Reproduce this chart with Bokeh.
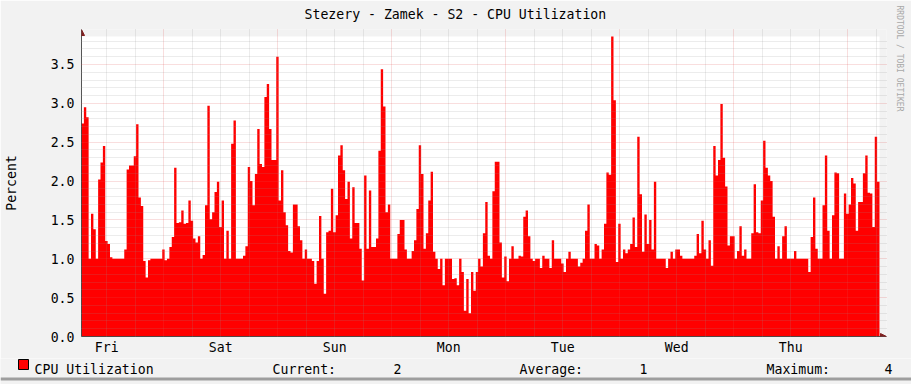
from bokeh.plotting import figure
from bokeh.layouts import column
from bokeh.models import (FixedTicker, Arrow, NormalHead, Title,
                          ColumnDataSource, PrintfTickFormatter)
from bokeh.core.properties import value
from bokeh.embed import file_html
from bokeh.resources import INLINE

# ---------------- data (30-minute averages, % CPU) ----------------
TITLE = "Stezery - Zamek - S2 - CPU Utilization"
Y_LABEL = "Percent"
SERIES_NAME = "CPU Utilization"
WATERMARK = "RRDTOOL / TOBI OETIKER"
DAY_NAMES = ["Fri", "Sat", "Sun", "Mon", "Tue", "Wed", "Thu"]
STAT_NAMES = ["Current:", "Average:", "Maximum:"]
START_HOUR = 6.7      # hours after Fri 00:00 at which the window starts
STEP_HOURS = 0.5

cpu_1 = [2.74, 2.95, 2.82, 1.0, 1.58, 1.38, 1.0, 2.02, 2.24, 2.45,
         1.23, 1.19, 1.02, 1.0, 1.0, 1.0, 1.0, 1.0, 1.12, 2.15,
         2.2, 2.2, 2.32, 2.73, 1.79, 1.68, 0.97, 0.76, 0.98, 1.0,
         1.0, 1.0, 1.0, 1.0, 1.12, 0.98, 1.0, 1.15, 1.28, 2.17,
         1.46, 1.47, 1.62, 1.45, 1.46, 1.75, 1.49, 1.26]
cpu_2 = [1.21, 1.29,
         1.0, 1.05, 1.69, 2.97, 1.51, 1.6, 1.86, 1.99, 1.41, 1.75,
         1.0, 1.36, 1.0, 2.48, 2.78, 1.0, 1.0, 1.0, 1.04, 1.16,
         2.18, 2.0, 1.69, 2.09, 2.67, 2.22, 2.18, 3.08, 3.25, 2.67,
         2.27, 2.27, 3.6, 1.75, 2.14, 1.6, 1.43, 1.1, 1.08, 1.7,
         1.7, 1.42, 1.24, 1.0, 1.12, 1.0]
cpu_3 = [1.0, 0.97, 0.68, 0.97,
         1.55, 1.0, 0.55, 1.34, 1.36, 1.9, 1.34, 1.56, 2.33, 2.46,
         2.14, 1.77, 1.99, 1.26, 1.92, 1.46, 1.46, 1.13, 0.72, 2.07,
         1.13, 1.88, 1.15, 1.15, 1.26, 2.39, 3.44, 2.96, 1.6, 1.7,
         1.0, 1.0, 1.0, 1.32, 1.5, 1.5, 1.12, 1.0, 1.0, 1.1,
         1.24, 1.64, 2.46, 2.09]
cpu_4 = [1.13, 1.33, 1.75, 2.12, 1.09, 1.0,
         0.87, 1.0, 0.66, 1.0, 1.0, 1.0, 0.74, 0.75, 0.66, 1.0,
         0.83, 0.33, 0.74, 0.3, 0.83, 0.59, 0.83, 1.0, 0.9, 1.33,
         1.73, 1.04, 1.0, 1.87, 2.25, 2.25, 1.21, 0.76, 1.03, 0.71,
         1.0, 1.16, 1.0, 1.0, 1.04, 1.03, 1.54, 1.62, 1.29, 1.0,
         0.97, 1.0]
cpu_5 = [1.0, 0.88, 1.04, 1.0, 1.0, 0.88, 1.24, 1.0,
         1.0, 1.0, 0.94, 0.83, 1.0, 1.09, 1.0, 1.0, 1.0, 0.9,
         0.95, 1.0, 1.36, 1.7, 1.0, 1.0, 1.19, 1.17, 1.0, 1.12,
         1.45, 2.11, 2.08, 3.86, 3.04, 0.96, 1.45, 1.0, 1.12, 1.07,
         1.12, 1.19, 1.53, 1.15, 2.57, 1.83, 1.09, 1.57, 1.19, 1.5]
cpu_6 = [1.12, 1.99, 1.0, 1.0, 1.0, 1.0, 0.88, 1.0, 1.09, 1.0,
         1.12, 1.12, 1.04, 1.0, 1.0, 1.0, 1.0, 1.0, 1.04, 1.32,
         1.07, 1.49, 1.12, 1.0, 1.24, 0.91, 2.45, 2.07, 2.27, 2.99,
         2.3, 1.93, 1.17, 1.29, 1.29, 1.0, 1.1, 1.42, 1.04, 1.12,
         1.0, 1.0, 1.33, 1.96, 1.34, 1.33, 1.75, 2.52]
cpu_7 = [2.17, 2.07,
         2.0, 1.54, 1.0, 1.16, 1.0, 1.29, 1.42, 1.0, 1.0, 1.0,
         1.1, 1.0, 1.0, 1.0, 1.0, 1.0, 0.83, 1.28, 1.79, 1.13,
         1.0, 1.0, 1.69, 2.33, 1.36, 1.0, 1.56, 2.11, 2.1, 1.0,
         1.0, 1.84, 1.58, 1.7, 2.04, 1.97, 1.36, 1.73, 1.73, 2.1,
         2.33, 1.85, 1.84, 1.41, 2.57, 1.99]

cpu = cpu_1 + cpu_2 + cpu_3 + cpu_4 + cpu_5 + cpu_6 + cpu_7
n = len(cpu)
t_end = START_HOUR + STEP_HOURS * n
times = [START_HOUR + STEP_HOURS * i for i in range(n)] + [t_end]
vals = cpu + [cpu[-1]]
ymax = max(cpu)

stat_values = [cpu[-1], sum(cpu) / n, max(cpu)]

# ---------------- layout (pixel geometry) ----------------
W, H = 911, 384
LEG_H = 26                          # legend strip at the bottom
H_MAIN = H - LEG_H
DL, DR, DT, DB = 81, 879, 36, 336   # data canvas edges
ARROW_EXT = 7                       # axes run this far past the canvas, to the arrows
px_h = (DR - DL) / (t_end - START_HOUR)
px_u = (DB - DT) / ymax
x_hi = t_end + ARROW_EXT / px_h
y_hi = ymax + ARROW_EXT / px_u

FONT = "DejaVu Sans Mono"
FS = "13.2px"
GREY_BG = "#F2F2F2"
SHADE_B = "#9E9E9E"

p = figure(width=W, height=H_MAIN, x_range=(START_HOUR, x_hi), y_range=(0, y_hi),
           output_backend="svg", toolbar_location=None,
           min_border_left=DL, min_border_right=W - (DR + ARROW_EXT),
           min_border_top=DT - ARROW_EXT, min_border_bottom=H_MAIN - DB,
           background_fill_color=GREY_BG, border_fill_color=GREY_BG,
           outline_line_color=None)

# white canvas spanning the data window
p.quad(left=[START_HOUR], right=[t_end], bottom=[0], top=[ymax],
       fill_color="#FFFFFF", line_color=None)

src = ColumnDataSource(dict(t=times, v=vals))
p.varea_step(x="t", y1=0, y2="v", step_mode="after", source=src,
             fill_color="#FF0000", fill_alpha=1.0)

# ---------------- grids ----------------
midnights = [24 * k for k in range(1, 8) if START_HOUR < 24 * k < t_end]
six_hours = [6 * k for k in range(1, 30) if START_HOUR < 6 * k < t_end and (6 * k) % 24 != 0]
y_major = [0.5 * k for k in range(0, int(ymax / 0.5) + 1)]
y_minor = [round(0.1 * k, 1) for k in range(1, int(ymax * 10 + 1e-9) + 1) if k % 5 != 0]

p.xgrid.ticker = FixedTicker(ticks=midnights, minor_ticks=six_hours)
p.ygrid.ticker = FixedTicker(ticks=[v for v in y_major if v > 0], minor_ticks=y_minor)
for g in (p.xgrid[0], p.ygrid[0]):
    g.level = "guide"
    g.grid_line_color = "#DE4F4F"
    g.grid_line_alpha = 0.38
    g.grid_line_dash = "1 1"
    g.minor_grid_line_color = "#8F8F8F"
    g.minor_grid_line_alpha = 0.35
    g.minor_grid_line_dash = "1 1"

# ---------------- axes ----------------
noon_ticks = [12 + 24 * k for k in range(len(DAY_NAMES))]
xa = p.xaxis[0]
xa.ticker = FixedTicker(ticks=noon_ticks)
xa.major_label_overrides = {tk: name for tk, name in zip(noon_ticks, DAY_NAMES)}
xa.major_label_standoff = 3
ya = p.yaxis[0]
ya.ticker = FixedTicker(ticks=y_major)
ya.formatter = PrintfTickFormatter(format="%.1f")
ya.major_label_standoff = 7
ya.axis_label = Y_LABEL
ya.axis_label_standoff = 29
ya.axis_label_text_font = FONT
ya.axis_label_text_font_size = FS
ya.axis_label_text_font_style = "normal"
ya.axis_label_text_color = "#000000"
for ax in (xa, ya):
    ax.major_tick_in = 0
    ax.major_tick_out = 0
    ax.minor_tick_in = 0
    ax.minor_tick_out = 0
    ax.major_tick_line_color = None
    ax.minor_tick_line_color = None
    ax.axis_line_color = "#1F1F1F"
    ax.axis_line_alpha = 0.75
    ax.major_label_text_font = FONT
    ax.major_label_text_font_size = FS
    ax.major_label_text_color = "#000000"

# ---------------- arrow heads at the axis ends ----------------
ARROW_C = "#801F1F"
p.add_layout(Arrow(end=NormalHead(size=6, fill_color=ARROW_C, line_color=ARROW_C),
                   x_start=START_HOUR, y_start=ymax, x_end=START_HOUR, y_end=y_hi,
                   line_alpha=0))
p.add_layout(Arrow(end=NormalHead(size=6, fill_color=ARROW_C, line_color=ARROW_C),
                   x_start=t_end, y_start=0, x_end=x_hi, y_end=0,
                   line_alpha=0))

# ---------------- title & watermark ----------------
p.title.text = TITLE
p.title.align = "left"
p.title.offset = 223
p.title.vertical_align = "top"
p.title.standoff = 11
p.title.text_font = FONT
p.title.text_font_size = FS
p.title.text_font_style = "normal"
p.title.text_color = "#000000"

p.add_layout(Title(text=WATERMARK, align="left", offset=-24, vertical_align="top",
                   standoff=13, text_font=FONT, text_font_size="8px",
                   text_font_style="normal", text_color="#A8A8A8"), "right")

# ---------------- legend strip (page pixel coordinates) ----------------
leg = figure(width=W, height=LEG_H, x_range=(0, W), y_range=(H, H_MAIN),
             output_backend="svg", toolbar_location=None,
             x_axis_type=None, y_axis_type=None, min_border=0,
             background_fill_color=GREY_BG, border_fill_color=GREY_BG,
             outline_line_color=None)
leg.xgrid.visible = False
leg.ygrid.visible = False
for fig in (p, leg):
    if "frame_align" in fig.properties():
        fig.frame_align = False

STRIP_SHIFT = 4   # the strip is rendered this much lower than its nominal slot
# bottom 3-D shade of the image frame
leg.quad(left=[0], right=[W], top=[H - 3 - STRIP_SHIFT], bottom=[H - STRIP_SHIFT],
         fill_color=SHADE_B, line_color=None)

ROW_MID = 364.0
ROW_BASE = ROW_MID + 4.8
leg.quad(left=[18], right=[28], top=[ROW_MID - 5], bottom=[ROW_MID + 5],
         fill_color="#FF0000", line_color="#000000", line_width=1)
leg.text(x=[34] + [272, 519, 766], y=[ROW_BASE] * 4,
         text=[SERIES_NAME] + STAT_NAMES,
         text_font=value(FONT), text_font_size=value(FS), text_color="#000000",
         text_align="left", text_baseline="alphabetic")
leg.text(x=[401, 647, 892], y=[ROW_BASE] * 3,
         text=["%.0f" % v for v in stat_values],
         text_font=value(FONT), text_font_size=value(FS), text_color="#000000",
         text_align="right", text_baseline="alphabetic")

layout = column(p, leg, spacing=0)
open("out.html", "w").write(file_html(layout, INLINE))
